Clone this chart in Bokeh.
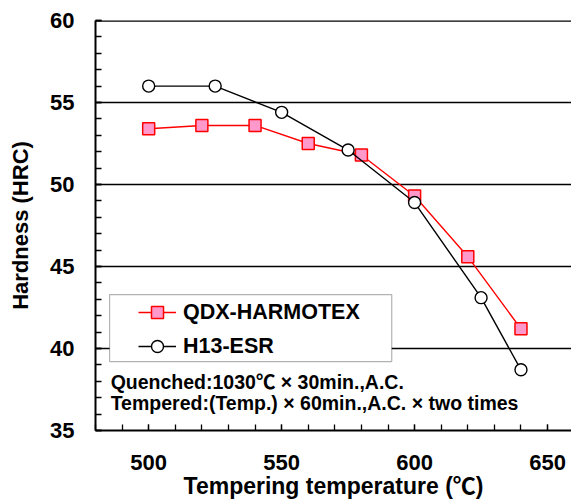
from bokeh.plotting import figure
from bokeh.models import (Range1d, SingleIntervalTicker, Span, BoxAnnotation,
                          Label, Legend, LegendItem)
from bokeh.embed import file_html
from bokeh.resources import INLINE

# ---- data ----
temps_qdx = [500, 520, 540, 560, 580, 600, 620, 640]
hrc_qdx = [53.4, 53.6, 53.6, 52.5, 51.8, 49.3, 45.6, 41.2]
temps_h13 = [500, 525, 550, 575, 600, 625, 640]
hrc_h13 = [56.0, 56.0, 54.4, 52.1, 48.9, 43.1, 38.7]
series_names = ["QDX-HARMOTEX", "H13-ESR"]
note_lines = ["Quenched:1030\u2103 \u00d7 30min.,A.C.",
              "Tempered:(Temp.) \u00d7 60min.,A.C. \u00d7 two times"]

FONT = "Liberation Sans, Arial, Noto Sans CJK JP"

p = figure(width=571, height=503, output_backend="svg", toolbar_location=None,
           x_range=Range1d(480, 659), y_range=Range1d(35, 60),
           min_border_left=95, min_border_right=0, min_border_top=20,
           min_border_bottom=73)
p.outline_line_color = None
p.background_fill_color = "white"
p.border_fill_color = "white"

# axes
p.xaxis.ticker = SingleIntervalTicker(interval=50, num_minor_ticks=5)
p.yaxis.ticker = SingleIntervalTicker(interval=5, num_minor_ticks=5)
for ax in (p.xaxis, p.yaxis):
    ax.axis_line_color = "black"
    ax.axis_line_width = 2
    ax.major_tick_in = 6
    ax.major_tick_out = 0
    ax.minor_tick_in = 6
    ax.minor_tick_out = 0
    ax.major_tick_line_color = "black"
    ax.minor_tick_line_color = "black"
    ax.major_tick_line_width = 1.3
    ax.minor_tick_line_width = 1.3
    ax.major_label_text_font = FONT
    ax.major_label_text_font_style = "bold"
    ax.major_label_text_font_size = "22px"
    ax.major_label_text_color = "black"
    ax.axis_label_text_font = FONT
    ax.axis_label_text_font_style = "bold"
    ax.axis_label_text_color = "black"

p.xaxis.major_label_standoff = 24
p.yaxis.major_label_standoff = 21
p.xaxis.axis_label = "Tempering temperature (\u2103)"
p.xaxis.axis_label_text_font_size = "23px"
p.xaxis.axis_label_standoff = 0
p.yaxis.axis_label = "Hardness (HRC)"
p.yaxis.axis_label_text_font_size = "22px"
p.yaxis.axis_label_standoff = 14

# grid
p.xgrid.visible = False
p.ygrid.ticker = SingleIntervalTicker(interval=5)
p.ygrid.grid_line_color = "black"
p.ygrid.grid_line_width = 1.4
p.add_layout(Span(location=60, dimension="width", line_color="black", line_width=2.5))

# legend box
p.add_layout(BoxAnnotation(left=485.3, right=591.4, bottom=39.2, top=43.29,
                           fill_color="white", fill_alpha=1.0,
                           line_color="black", line_width=1.2))

# series
l1 = p.line(temps_qdx, hrc_qdx, line_color="#ff0000", line_width=1.4)
s1 = p.scatter(temps_qdx, hrc_qdx, marker="square", size=12,
               fill_color="#ff99cc", line_color="#ff0000", line_width=1.5)
l2 = p.line(temps_h13, hrc_h13, line_color="black", line_width=1.4)
s2 = p.scatter(temps_h13, hrc_h13, marker="circle", size=12,
               fill_color="white", line_color="black", line_width=1.4)

legend = Legend(items=[LegendItem(label=series_names[0], renderers=[l1, s1]),
                       LegendItem(label=series_names[1], renderers=[l2, s2])],
                location=(43, 69), padding=0, spacing=4, margin=0,
                glyph_height=30, glyph_width=38, label_height=30,
                label_standoff=7, label_text_font=FONT,
                label_text_font_style="bold", label_text_font_size="21.5px",
                label_text_color="black",
                border_line_alpha=0, background_fill_alpha=0)
p.add_layout(legend)

# notes
for txt, yy in zip(note_lines, [37.93, 36.65]):
    p.add_layout(Label(x=485.7, y=yy, text=txt, text_font=FONT,
                       text_font_style="bold", text_font_size="19.5px",
                       text_baseline="middle", text_color="black"))

open("out.html", "w").write(file_html(p, INLINE))
